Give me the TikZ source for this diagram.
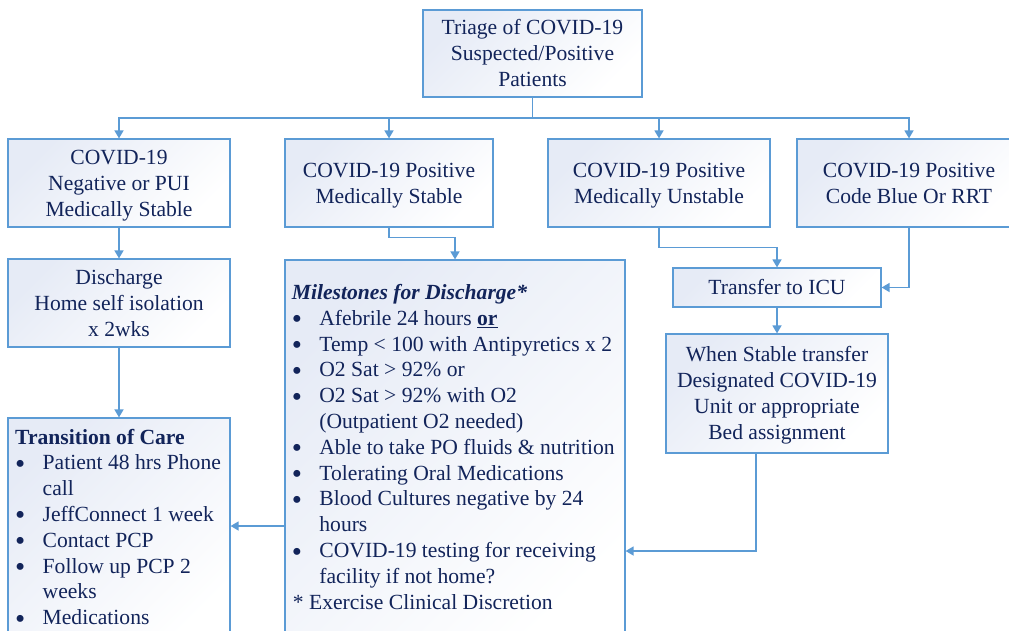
\documentclass[tikz,border=0pt]{standalone}
\usepackage{fontspec}
\setmainfont{Liberation Serif}
\usetikzlibrary{arrows.meta,calc}
\definecolor{lnc}{HTML}{5B9BD5}
\definecolor{txc}{HTML}{12245A}
\definecolor{flc}{HTML}{E6EBF6}
\newcommand{\bul}{\makebox[27.5pt][l]{\smash{\raisebox{-3.5pt}{\fontsize{29}{26}\selectfont •}}}}
\newcommand{\cont}{\hspace*{27.5pt}}
\newcommand{\sr}{\rule[-5pt]{0pt}{24.3pt}}
\begin{document}
\begin{tikzpicture}[x=1pt,y=-1pt,
  box/.style={draw=lnc, line width=1.2pt, top color=flc, bottom color=white, shading angle=45,
    text=txc, align=center, inner sep=0pt, font=\fontsize{21.6}{26}\selectfont},
  txt/.style={text=txc, inner sep=0pt, align=left, font=\fontsize{21.6}{25.8}\selectfont},
  arr/.style={draw=lnc, line width=1.5pt, -{Triangle[length=8pt,width=9pt]}},
  link/.style={draw=lnc, line width=1.5pt}]
\path[use as bounding box] (0,0) rectangle (1009,630);
\fill[white] (0,0) rectangle (1009,630);
\clip (0,0) rectangle (1009,630);

\node[box, minimum width=219pt, minimum height=87pt] (tri) at (532.5,53.5) {\sr Triage of COVID-19\\Suspected/Positive\\Patients\sr};
\node[box, minimum width=222pt, minimum height=88pt] (b1) at (119,183) {\sr COVID-19\\Negative or PUI\\Medically Stable\sr};
\node[box, minimum width=208pt, minimum height=88pt] (b2) at (389,183) {\sr COVID-19 Positive\\Medically Stable\sr};
\node[box, minimum width=222pt, minimum height=88pt] (b3) at (659,183) {\sr COVID-19 Positive\\Medically Unstable\sr};
\node[box, minimum width=224pt, minimum height=88pt] (b4) at (909,183) {\sr COVID-19 Positive\\Code Blue Or RRT\sr};
\node[box, minimum width=222pt, minimum height=88pt] (dis) at (119,303) {\sr Discharge\\Home self isolation\\x 2wks\sr};
\node[box, minimum width=340pt, minimum height=390pt] (ms) at (455,455) {};
\node[box, minimum width=222pt, minimum height=232pt] (tr) at (119,534) {};
\node[box, minimum width=208pt, minimum height=39pt] (icu) at (777,287.5) {\sr Transfer to ICU};
\node[box, minimum width=222pt, minimum height=119pt] (st) at (777,393.5) {\sr When Stable transfer\\Designated COVID-19\\Unit or appropriate\\Bed assignment\sr};

\node[txt, anchor=base west] (mst) at (291.7,299.5) {\begin{tabular}[t]{@{}l@{}}
\textbf{\textit{Milestones for Discharge*}}\\
\bul Afebrile 24 hours \underline{\textbf{or}}\\
\bul Temp < 100 with Antipyretics x 2\\
\bul O2 Sat > 92\% or\\
\bul O2 Sat > 92\% with O2\\
\cont (Outpatient O2 needed)\\
\bul Able to take PO fluids \& nutrition\\
\bul Tolerating Oral Medications\\
\bul Blood Cultures negative by 24\\
\cont hours\\
\bul COVID-19 testing for receiving\\
\cont facility if not home?\\
\hspace*{1pt}* Exercise Clinical Discretion
\end{tabular}};

\node[txt, anchor=base west] (trt) at (15,444) {\begin{tabular}[t]{@{}l@{}}
\textbf{Transition of Care}\\
\bul Patient 48 hrs Phone\\
\cont call\\
\bul JeffConnect 1 week\\
\bul Contact PCP\\
\bul Follow up PCP 2\\
\cont weeks\\
\bul Medications
\end{tabular}};

\coordinate (bus) at (0,118);
\draw[link] (tri.south) -- (tri.south |- bus);
\draw[arr] (tri.south |- bus) -| (b1.north);
\draw[arr] (tri.south |- bus) -| (b2.north);
\draw[arr] (tri.south |- bus) -| (b3.north);
\draw[arr] (tri.south |- bus) -| (b4.north);
\draw[arr] (b1.south) -- (dis.north);
\draw[arr] (dis.south) -- (tr.north);
\draw[arr] (b2.south) -- ++(0,10) -| (ms.north);
\draw[arr] (b3.south) -- ++(0,20) -| (icu.north);
\draw[arr] (b4.south) |- (icu.east);
\draw[arr] (icu.south) -- (st.north);
\draw[arr] ([xshift=-21pt]st.south) |- ($(ms.east)+(0,96)$);
\draw[arr] ($(ms.west)+(0,71)$) -- ($(tr.east)+(0,-8)$);
\end{tikzpicture}
\end{document}
